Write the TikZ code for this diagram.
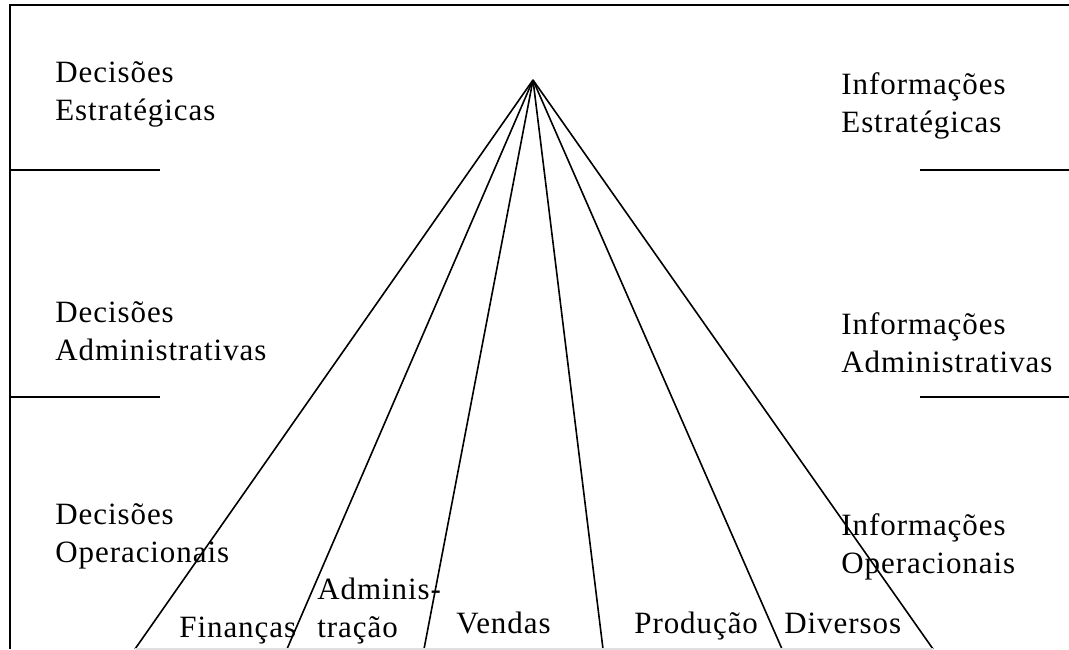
\documentclass[tikz,border=0pt]{standalone}
\usepackage{fontspec}
\setmainfont{Liberation Serif}[LetterSpace=3]
\begin{document}
\begin{tikzpicture}[x=0.5pt,y=-0.5pt,
    lbl/.style={inner sep=0pt, anchor=base west, align=left,
      font=\fontsize{15.5}{19}\selectfont},
    frame/.style={line width=0.9pt},
    ray/.style={line width=0.8pt}]
    \useasboundingbox (0,0) rectangle (1069,649);

    % Frame
    \draw[frame] (1069,5) -- (10,5) -- (10,649);

    % Level separators
    \draw[ray] (10,170) -- (160,170);
    \draw[ray] (10,397) -- (160,397);
    \draw[ray] (920,170) -- (1069,170);
    \draw[ray] (920,397) -- (1069,397);

    % Decisions (left)
    \node[lbl] (decE) at (55,120) {Decisões\\Estratégicas};
    \node[lbl] (decA) at (55,360) {Decisões\\Administrativas};
    \node[lbl] (decO) at (55,562) {Decisões\\Operacionais};

    % Information (right)
    \node[lbl] (infE) at (841,132) {Informações\\Estratégicas};
    \node[lbl] (infA) at (841,372) {Informações\\Administrativas};
    \node[lbl] (infO) at (841,573) {Informações\\Operacionais};

    % Fan of areas
    \coordinate (apex) at (533,80);
    \coordinate (b1) at (135,649);
    \coordinate (b2) at (287,649);
    \coordinate (b3) at (424,649);
    \coordinate (b4) at (603,649);
    \coordinate (b5) at (782,649);
    \coordinate (b6) at (933,649);
    \foreach \b in {b1,b2,b3,b4,b5,b6}
      \draw[ray] (apex) -- (\b);
    \draw[gray!25, line width=0.8pt] (b1) -- (b6);

    % Areas
    \node[lbl] (fin) at (179,637) {Finanças};
    \node[lbl] (adm) at (317,637) {Adminis-\\tração};
    \node[lbl] (ven) at (456,633) {Vendas};
    \node[lbl] (pro) at (634,633) {Produção};
    \node[lbl] (div) at (784,633) {Diversos};
\end{tikzpicture}
\end{document}
